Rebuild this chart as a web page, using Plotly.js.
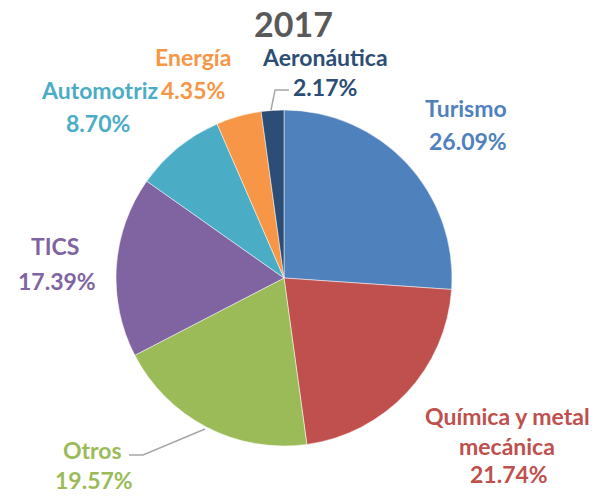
<!DOCTYPE html>
<html><head><meta charset="utf-8">
<script src="https://cdn.plot.ly/plotly-3.0.1.min.js"></script>
<style>body{margin:0}#c{width:607px;height:496px}</style>
</head><body><div id="c"></div>
<script>
const categories = ["Turismo","Química y metal mecánica","Otros","TICS","Automotriz","Energía","Aeronáutica"];
const values = [26.09, 21.74, 19.57, 17.39, 8.70, 4.35, 2.17];
const colors = ["#4F81BD","#C0504D","#9BBB59","#8064A2","#4BACC6","#F79646","#2C4D75"];
const nameLines = [["Turismo"],["Química y metal","mecánica"],["Otros"],["TICS"],["Automotriz"],["Energía"],["Aeronáutica"]];
const labelPos = [
  {names:[[466,108]], pct:[468,141]},
  {names:[[507,416],[507,446]], pct:[509,474]},
  {names:[[92,450]], pct:[94,480]},
  {names:[[55,246]], pct:[57,281]},
  {names:[[100,90]], pct:[98,123]},
  {names:[[193,57]], pct:[193,90]},
  {names:[[325,57]], pct:[325,87]}
];
const W=607,H=496;
const FONT="Lato, 'Open Sans', sans-serif";
const FS=23;
const ann=[];
labelPos.forEach((p,i)=>{
  p.names.forEach((xy,j)=>{
    ann.push({xref:'paper',yref:'paper',x:xy[0]/W,y:1-xy[1]/H,xanchor:'center',yanchor:'middle',
      text:'<b>'+nameLines[i][j]+'</b>',showarrow:false,font:{family:FONT,size:FS,color:colors[i]}});
  });
  ann.push({xref:'paper',yref:'paper',x:p.pct[0]/W,y:1-p.pct[1]/H,xanchor:'center',yanchor:'middle',
    text:'<b>'+values[i].toFixed(2)+'%</b>',showarrow:false,font:{family:FONT,size:FS,color:colors[i]}});
});
ann.push({xref:'paper',yref:'paper',x:293/W,y:1-23/H,xanchor:'center',yanchor:'middle',
  text:'<b>2017</b>',showarrow:false,font:{family:FONT,size:34,color:'#595959'}});
function P(x,y){return [x/W,1-y/H];}
function line(pts){
  let d='M'+pts.map(p=>{const q=P(p[0],p[1]);return q[0]+','+q[1];}).join(' L');
  return {type:'path',xref:'paper',yref:'paper',path:d,line:{color:'#A6A6A6',width:1.5}};
}
const shapes=[
  line([[271,110],[275,90],[289,90]]),
  line([[205,429],[143,455],[129,455]])
];
const cx=284,cy=278,r=168;
Plotly.newPlot('c',[{
  type:'pie',labels:categories,values:values,sort:false,direction:'clockwise',rotation:0,
  marker:{colors:colors,line:{color:'#ffffff',width:0.5}},textinfo:'none',hoverinfo:'label+percent',
  domain:{x:[(cx-r)/W,(cx+r)/W],y:[1-(cy+r)/H,1-(cy-r)/H]}
}],{
  width:W,height:H,margin:{l:0,r:0,t:0,b:0},showlegend:false,
  paper_bgcolor:'#ffffff',annotations:ann,shapes:shapes
},{displayModeBar:false,staticPlot:true});
</script></body></html>
